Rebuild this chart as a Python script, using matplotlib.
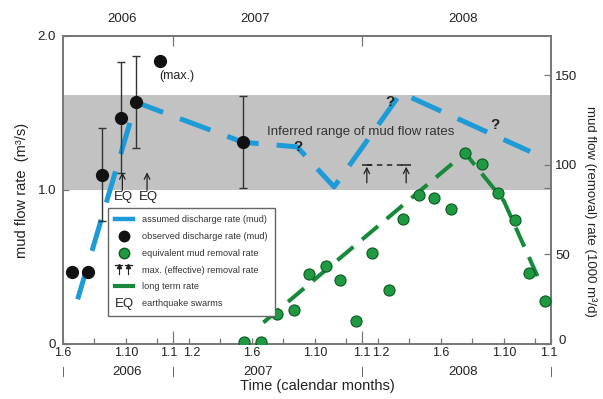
import matplotlib
matplotlib.use('Agg')
import matplotlib.pyplot as plt
import matplotlib.transforms as mtransforms
from matplotlib.lines import Line2D
from matplotlib.text import Text
from matplotlib.legend_handler import HandlerBase

plt.rcParams['font.family'] = ['Liberation Sans', 'DejaVu Sans']

# ---------------- data (x = months since 1 June 2006) ----------------
# assumed discharge rate (mud), m3/s
blue_m = [0.93, 4.64, 11.44, 14.87, 17.22, 21.47, 29.67]
blue_v = [0.29, 1.57, 1.31, 1.28, 1.02, 1.63, 1.25]
# observed discharge rate (mud), m3/s with error
obs_m = [0.57, 1.56, 2.50, 3.69, 4.64, 11.44]
obs_v = [0.47, 0.47, 1.10, 1.47, 1.57, 1.31]
obs_err = [0.0, 0.0, 0.30, 0.36, 0.30, 0.30]
max_m = [6.16]
max_v = [1.84]
# equivalent mud removal rate (1000 m3/d)
rem_m = [11.5, 12.56, 13.57, 14.66, 15.65, 16.69, 17.6, 18.6, 19.61, 20.71,
         21.58, 22.64, 23.57, 24.63, 25.54, 26.64, 27.65, 28.71, 29.62, 30.62]
rem_v = [1, 1, 17, 19, 39, 43.5, 36, 13, 51, 30,
         70, 83, 81.5, 75.5, 106.5, 100.5, 84.5, 69.5, 39.5, 24]
# long term rate (1000 m3/d)
lt_m = [12.73, 25.54, 28.0, 30.3]
lt_v = [12.0, 106.7, 80.0, 34.7]
# max (effective) removal rate
maxrem_m = [19.3, 21.8]
maxrem_v = [100, 100]
# earthquake swarms
eq_m = [3.77, 5.34]
# inferred range band (m3/s)
band_lo, band_hi = 1.0, 1.62
# question marks
q_m = [14.93, 20.8, 27.45]
q_v = [1.28, 1.57, 1.42]

# ticks
major_pos = [0, 4, 7, 8, 12, 16, 19, 20, 24, 28, 31]
major_lab = ['1.6', '1.10', '1.1', '1.2', '1.6', '1.10', '1.1', '1.2', '1.6', '1.10', '1.1']
minor_pos = [2, 6, 10, 14, 18, 22, 26, 30]
year_bounds = [0, 7, 19, 31]
year_names = ['2006', '2007', '2008']
year_bottom_m = [4.07, 12.4, 25.4]
year_top_m = [3.75, 12.2, 25.4]

BLUE = '#1d9ad8'
GREEN = '#168a3a'
GREEN_FILL = '#1f9a42'
GREEN_EDGE = '#0c5a22'
SPINE = '#777777'
TXT = '#222222'

fig = plt.figure(figsize=(6.03, 3.99), dpi=100)
ax = fig.add_axes([63/603, 1-344/399, 488/603, 308/399])
ax.set_xlim(0, 31)
ax.set_ylim(0, 2)
ax.axhspan(band_lo, band_hi, color='#c2c2c2', lw=0, zorder=0)

ax.plot(blue_m, blue_v, color=BLUE, lw=3.6, dashes=(6.5, 3.6),
        dash_capstyle='butt', zorder=2)
em = [m for m, e in zip(obs_m, obs_err) if e > 0]
ev = [v for v, e in zip(obs_v, obs_err) if e > 0]
ee = [e for e in obs_err if e > 0]
ax.errorbar(em, ev, yerr=ee, fmt='none', ecolor='#333333', elinewidth=1.0,
            capsize=3, capthick=1.0, zorder=3)
ax.plot(obs_m, obs_v, 'o', color='#111111', ms=8.5, zorder=4)
ax.plot(max_m, max_v, 'o', color='#111111', ms=8.5, zorder=4)
ax.text(max_m[0] - 0.05, max_v[0] - 0.1, '(max.)', fontsize=9, color=TXT,
        ha='left', va='center')

for m, v in zip(q_m, q_v):
    ax.text(m, v, '?', fontsize=11, fontweight='bold', color=TXT,
            ha='center', va='center', zorder=5)
ax.text(18.9, 1.377, 'Inferred range of mud flow rates', fontsize=9.5,
        color='#333333', ha='center', va='center', zorder=5)

for m in eq_m:
    ax.annotate('', xy=(m, 1.115), xytext=(m, 0.995),
                arrowprops=dict(arrowstyle='->', lw=0.9, color=TXT,
                                shrinkA=0, shrinkB=0), zorder=5)
    ax.text(m + 0.1, 0.955, 'EQ', fontsize=9.5, color=TXT, ha='center', va='center')

# ticks (bottom)
ax.set_xticks(major_pos)
ax.set_xticklabels(major_lab)
ax.set_xticks(minor_pos, minor=True)
ax.tick_params(axis='x', which='major', direction='in', length=4.3, width=0.9,
               pad=2.5, labelsize=9, color=SPINE, labelcolor=TXT)
ax.tick_params(axis='x', which='minor', direction='in', length=4.3, width=0.9,
               color=SPINE)
for t in ax.xaxis.get_major_ticks():
    if t.get_loc() in (7, 19):
        t.tick1line.set_markersize(9.5)
for lab, loc in zip(ax.get_xticklabels(), major_pos):
    dx = {7: -4, 8: 3, 19: 0, 20: 3, 31: -2}.get(loc, 0)
    if dx:
        lab.set_transform(lab.get_transform() +
                          mtransforms.ScaledTranslation(dx/100, 0, fig.dpi_scale_trans))

ax.set_yticks([0, 1, 2])
ax.set_yticklabels(['0', '1.0', '2.0'])
ax.tick_params(axis='y', direction='in', length=4, width=0.9, pad=5,
               labelsize=9.5, color=SPINE, labelcolor=TXT)

for s in ax.spines.values():
    s.set_color(SPINE)
    s.set_linewidth(1.2)

# second row under x axis
btrans = mtransforms.blended_transform_factory(ax.transData, ax.transAxes)
for m in year_bounds:
    ax.text(m, -0.092, '|', transform=btrans, ha='center', va='center',
            fontsize=8, color='#555555')
for m, y in zip(year_bottom_m, year_names):
    ax.text(m, -0.092, y, transform=btrans, ha='center', va='center',
            fontsize=9.5, color=TXT)
for m, y in zip(year_top_m, year_names):
    ax.text(m, 1.055, y, transform=btrans, ha='center', va='center',
            fontsize=9.5, color=TXT)

sec = ax.secondary_xaxis('top')
sec.set_xticks([7, 19])
sec.set_xticklabels(['', ''])
sec.tick_params(direction='in', length=7, width=0.9, color=SPINE)
for s in sec.spines.values():
    s.set_color(SPINE)
    s.set_linewidth(1.2)

# right axis
ax2 = ax.twinx()
ax2.set_ylim(0, 172)
ax2.plot(lt_m, lt_v, color=GREEN, lw=2.9, dashes=(5.2, 2.8),
         dash_capstyle='butt', zorder=2)
ax2.plot(rem_m, rem_v, 'o', mfc=GREEN_FILL, mec=GREEN_EDGE, mew=0.8, ms=8,
         ls='none', zorder=3)
ax2.plot(maxrem_m, maxrem_v, color=TXT, lw=1.1, dashes=(3.5, 3), zorder=3)
ax2.plot(maxrem_m, maxrem_v, marker='_', ms=7, mew=1.1, color=TXT, ls='none', zorder=3)
for m in maxrem_m:
    ax2.annotate('', xy=(m, 99), xytext=(m, 90),
                 arrowprops=dict(arrowstyle='->', lw=0.9, color=TXT,
                                 shrinkA=0, shrinkB=0), zorder=3)
ax2.set_yticks([0, 50, 87, 100, 150])
ax2.set_yticklabels(['0', '50', '', '100', '150'])
ax2.tick_params(axis='y', direction='in', length=5, width=0.9, pad=3,
                labelsize=9.5, color=SPINE, labelcolor=TXT)
r0 = ax2.get_yticklabels()[0]
r0.set_transform(r0.get_transform() +
                 mtransforms.ScaledTranslation(0.03, 0.05, fig.dpi_scale_trans))
for s in ax2.spines.values():
    s.set_color(SPINE)
    s.set_linewidth(1.2)

# labels
fig.text(22/603, 1-190/399, 'mud flow rate  (m³/s)', rotation=90, ha='center',
         va='center', fontsize=10.5, color=TXT)
fig.text(590/603, 1-211/399, 'mud flow (removal) rate (1000 m³/d)', rotation=270,
         ha='center', va='center', fontsize=9.5, color=TXT)
fig.text(317/603, 1-386/399, 'Time (calendar months)', ha='center', va='center',
         fontsize=10.5, color=TXT)


# legend
class HandlerMaxRate(HandlerBase):
    def create_artists(self, legend, orig_handle, xdescent, ydescent, width,
                       height, fontsize, trans):
        arts = []
        for fx in (0.2, 0.75):
            x = -xdescent + fx * width
            y0 = -ydescent - 0.25 * height
            y1 = -ydescent + 1.15 * height
            arts.append(Line2D([x, x], [y0, y1], color=TXT, lw=0.8, transform=trans))
            arts.append(Line2D([x], [y1 - 0.1 * height], marker='^', ms=3,
                               color=TXT, ls='none', transform=trans))
            arts.append(Line2D([x - 2.5, x + 2.5], [y1, y1], color=TXT, lw=0.9,
                               transform=trans))
        return arts


class HandlerTxt(HandlerBase):
    def __init__(self, txt):
        super().__init__()
        self.txt = txt

    def create_artists(self, legend, orig_handle, xdescent, ydescent, width,
                       height, fontsize, trans):
        t = Text(-xdescent + width / 2, -ydescent + height / 2 - 1, self.txt,
                 ha='center', va='center', fontsize=9.5, color=TXT, transform=trans)
        return [t]


h_blue = Line2D([], [], color=BLUE, lw=3.2)
h_obs = Line2D([], [], marker='o', color='#111111', ms=7.5, ls='none')
h_rem = Line2D([], [], marker='o', mfc=GREEN_FILL, mec=GREEN_EDGE, ms=7.5, ls='none')
h_lt = Line2D([], [], color=GREEN, lw=3)


class _H1: pass
class _H2: pass


hm, he = _H1(), _H2()
leg = ax2.legend([h_blue, h_obs, h_rem, hm, h_lt, he],
                 ['assumed discharge rate (mud)', 'observed discharge rate (mud)',
                  'equivalent mud removal rate', 'max. (effective) removal rate',
                  'long term rate', 'earthquake swarms'],
                 handler_map={_H1: HandlerMaxRate(), _H2: HandlerTxt('EQ')},
                 loc='upper left', bbox_to_anchor=(0.092, 0.4416),
                 bbox_transform=ax2.transAxes, borderaxespad=0,
                 fontsize=6.6, frameon=True, fancybox=False, framealpha=1,
                 edgecolor='#666666', borderpad=0.8, labelspacing=0.85,
                 handlelength=1.9, handletextpad=1.0, labelcolor='#333333')
leg.get_frame().set_linewidth(1.0)
leg.set_zorder(10)

fig.savefig('out.png', dpi=100)
